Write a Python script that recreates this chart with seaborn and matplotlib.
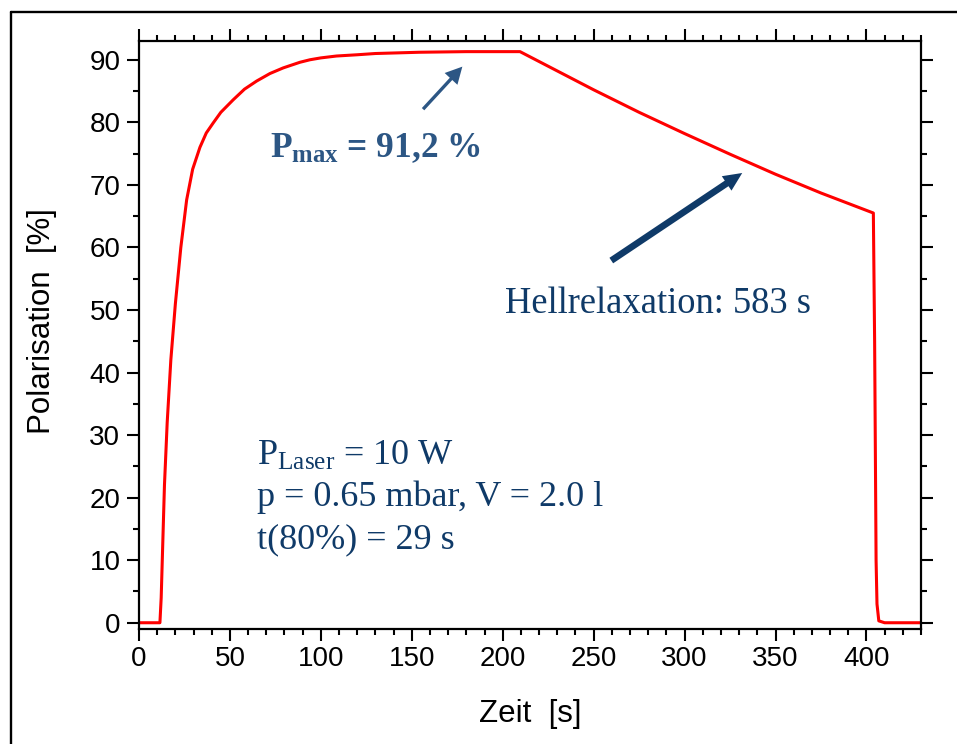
import matplotlib
matplotlib.use("Agg")
import matplotlib.pyplot as plt
from matplotlib.ticker import MultipleLocator
from matplotlib.lines import Line2D
import seaborn as sns
import pandas as pd

# ---- data ----
time_s = [0, 11.5, 12.2, 13, 14, 15.5, 17.5, 20, 23, 26.2, 29.5, 33.5, 37,
          40.8, 45, 51.8, 58, 64.7, 72, 79.3, 88.5, 94, 100, 108.6, 120,
          130, 142, 154, 180, 209.5,
          250, 275, 300, 325, 350, 375, 403.8,
          404.5, 405.3, 405.8, 406.8, 410, 430]
polarisation = [0, 0, 4, 12, 22, 32, 42, 51, 60, 67.6, 72.5, 76, 78.3,
                79.9, 81.6, 83.6, 85.3, 86.6, 87.8, 88.7, 89.6, 90.0, 90.3, 90.6, 90.8,
                91.0, 91.1, 91.2, 91.3, 91.3,
                85.2, 81.6, 78.2, 74.9, 71.7, 68.7, 65.5,
                45, 10, 3, 0.3, 0, 0]

x_label = "Zeit  [s]"
y_label = "Polarisation  [%]"
pmax_text = r"$\mathbf{P}_{\mathbf{max}}$ = 91,2 %"
relax_text = "Hellrelaxation: 583 s"
param_lines = [r"$\mathrm{P}_{\mathrm{Laser}}$ = 10 W",
               "p = 0.65 mbar, V = 2.0 l",
               "t(80%) = 29 s"]

df = pd.DataFrame({"t": time_s, "P": polarisation})

sns.set_theme(style="ticks")
plt.rcParams["font.family"] = ["Liberation Sans", "DejaVu Sans"]
plt.rcParams["mathtext.fontset"] = "custom"
plt.rcParams["mathtext.rm"] = "Liberation Serif"
plt.rcParams["mathtext.it"] = "Liberation Serif:italic"
plt.rcParams["mathtext.bf"] = "Liberation Serif:bold"

W, H = 957, 744
fig = plt.figure(figsize=(W / 100, H / 100), dpi=100)
fig.patch.set_facecolor("white")
ax = fig.add_axes([139 / W, (H - 629) / H, 782 / W, 588 / H])
ax.set_facecolor("white")

sns.lineplot(data=df, x="t", y="P", ax=ax, color="#ff0000", lw=2.2,
             sort=False, estimator=None)

ax.set_xlim(0, 430)
ax.set_ylim(-1, 93)
ax.xaxis.set_major_locator(MultipleLocator(50))
ax.xaxis.set_minor_locator(MultipleLocator(10))
ax.yaxis.set_major_locator(MultipleLocator(10))
ax.yaxis.set_minor_locator(MultipleLocator(5))

for s in ax.spines.values():
    s.set_visible(True)
    s.set_linewidth(1.6)
    s.set_color("black")

ax.tick_params(which="both", direction="out", top=True, right=True,
               bottom=True, left=True, color="black", width=1.5)
ax.tick_params(which="major", length=8.4, labelsize=20, pad=5,
               labelcolor="black")
ax.tick_params(which="minor", length=4.3)
ax.tick_params(axis="x", which="major", pad=4)

ax.set_xlabel(x_label, fontsize=22.5, color="black")
ax.set_ylabel(y_label, fontsize=22.5, color="black")
ax.xaxis.label.set_va("baseline")
ax.xaxis.set_label_coords(0.5, (629 - 721.7) / 588)
ax.yaxis.label.set_va("baseline")
ax.yaxis.set_label_coords((50 - 139) / 782, (629 - 321) / 588)

serif = ["Liberation Serif", "DejaVu Serif"]
c_light = "#2c5684"
c_dark = "#0f3a68"

ax.text(72.0, 74.4, pmax_text, family=serif, fontweight="bold",
        fontsize=25.5, color=c_light, va="baseline", ha="left")
ax.text(201.1, 49.5, relax_text, family=serif, fontsize=26.3,
        color=c_dark, va="baseline", ha="left")
for txt, yb in zip(param_lines, [25.3, 18.7, 11.9]):
    ax.text(64.7, yb, txt, family=serif, fontsize=26, color=c_dark,
            va="baseline", ha="left")

ax.annotate("", xy=(177.8, 88.9), xytext=(156.2, 82.1),
            arrowprops=dict(arrowstyle="simple,head_length=1.2,head_width=1.25,tail_width=0.24",
                            mutation_scale=10, color=c_light, lw=0,
                            shrinkA=0, shrinkB=0))
ax.annotate("", xy=(331.7, 71.9), xytext=(259.7, 57.9),
            arrowprops=dict(arrowstyle="simple,head_length=1.35,head_width=1.25,tail_width=0.48",
                            mutation_scale=10, color=c_dark, lw=0,
                            shrinkA=0, shrinkB=0))

# outer frame (left and top edges visible)
fig.add_artist(Line2D([10.5 / W, 10.5 / W], [-0.05, 1 - 12 / H],
                      transform=fig.transFigure, color="black", lw=1.7))
fig.add_artist(Line2D([10.5 / W, 1.05], [1 - 12 / H, 1 - 12 / H],
                      transform=fig.transFigure, color="black", lw=1.7))

fig.savefig("out.png", dpi=100, facecolor="white")
